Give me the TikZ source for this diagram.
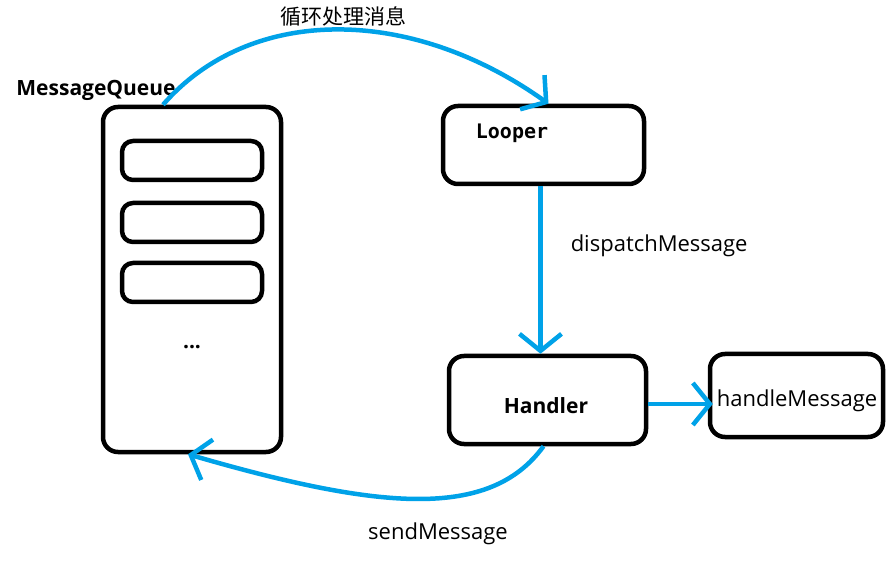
\documentclass[tikz,border=0pt]{standalone}
\usepackage{fontspec}
\setmainfont{Open Sans}
\newfontfamily\cjk{Noto Sans CJK SC}
\newfontfamily\monobold{DejaVu Sans Mono Bold}
\usetikzlibrary{arrows.meta}
\definecolor{paintblue}{RGB}{0,162,232}
\tikzset{
    box/.style={draw=black, line width=4.5pt, rounded corners=15pt, inner sep=0pt},
    slot/.style={draw=black, line width=4.5pt, rounded corners=11pt, inner sep=0pt,
        minimum width=140pt, minimum height=39pt},
    flow/.style={draw=paintblue, line width=4.5pt,
        -{Straight Barb[length=17pt, width=42pt]}},
    caption/.style={inner sep=0pt, font=\fontsize{22}{26}\selectfont},
    boldcaption/.style={inner sep=0pt, font=\bfseries\fontsize{21}{25}\selectfont},
}

\begin{document}
\begin{tikzpicture}[x=1pt,y=-1pt]
    \useasboundingbox (0,0) rectangle (892,561);
    \begin{scope}
        \node[box, minimum width=178pt, minimum height=345pt] (queue) at (192,279.5) {};
        \foreach \y [count=\i] in {160.5,222.5,282.5}{%
            \node[slot] (slot\i) at (192,\y) {};
        }
        \node[boldcaption] (dots) at (192,347) {...};
        \node[boldcaption] (queuename) at (96,90) {MessageQueue};

        \node[box, minimum width=201pt, minimum height=78pt] (looper) at (543.5,145) {};
        \node[caption, font=\monobold\fontsize{20}{24}\selectfont] (loopername) at (512,133) {Looper};

        \node[box, minimum width=197pt, minimum height=88pt] (handler) at (547.5,400) {};
        \node[boldcaption] (handlername) at (546,406) {Handler};

        \node[box, minimum width=173pt, minimum height=83pt] (handlemsg) at (796.5,395.5) {};
        \node[caption] (handlemsgname) at (797,401) {handleMessage};

        \draw[flow] ([xshift=-29pt]queue.north) .. controls (250,5) and (410,5) .. ([xshift=5pt]looper.north);
        \node[caption, font=\cjk\fontsize{21}{25}\selectfont] (loopcap) at (343,17) {循环处理消息};
        \draw[flow] ([xshift=-3pt]looper.south) -- ([xshift=-3pt]looper.south |- handler.north)
            node[midway, right=28pt, yshift=24pt, caption] (dispatchcap) {dispatchMessage};
        \draw[flow] ([yshift=-4pt]handler.east) -- ([yshift=-4pt, xshift=5pt]handler.east -| handlemsg.west);
        \draw[flow] ([xshift=-4pt]handler.south) .. controls (490,520) and (380,510) .. ([xshift=-4pt]queue.south);
        \node[caption] (sendcap) at (438,534) {sendMessage};
    \end{scope}
\end{tikzpicture}
\end{document}
